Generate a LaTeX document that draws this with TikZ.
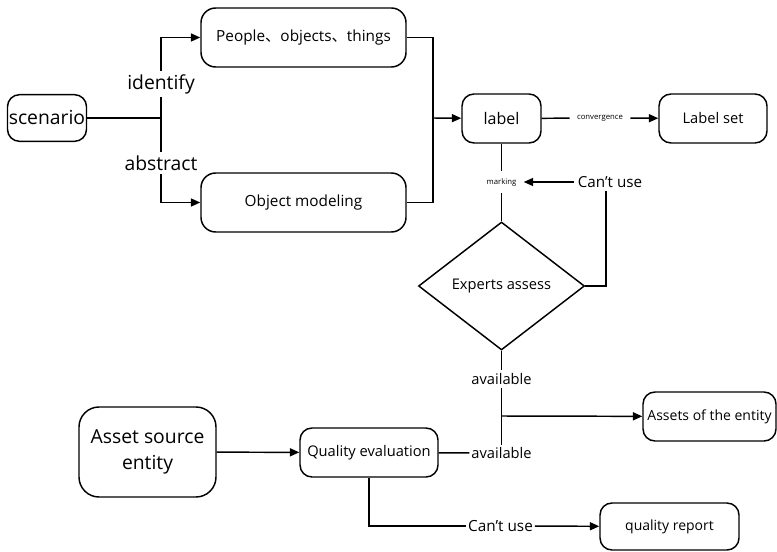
\documentclass[tikz,border=0pt]{standalone}
\usepackage{fontspec}
\setmainfont{Open Sans}
\newfontfamily\cjk{Noto Sans CJK SC}
\usetikzlibrary{arrows.meta,positioning,shapes.geometric}
\tikzset{%
	block/.style    = {draw, rectangle, rounded corners=9pt, align=center, inner sep=1pt, minimum height=36.75pt}, % Box
	decision/.style = {draw, diamond, inner sep=0pt, minimum width=124.5pt, minimum height=96pt}, % Check
	tag/.style      = {inner sep=2pt}, % Label on a line
	small/.style    = {inner sep=5pt, font=\fontsize{5.8}{7}\selectfont}, % Tiny label
	waypoint/.style = {coordinate}, % Joint
}

\begin{document}
\begin{tikzpicture}[x=0.75pt, y=-0.75pt, line width=1.1pt, >={Triangle[length=7pt,width=6pt]}, font=\fontsize{11}{13}\selectfont]
		\useasboundingbox (0,0) rectangle (777,552);
		\node[block, minimum width=59pt, minimum height=35pt, font=\fontsize{14.5}{16}\selectfont] (scen) at (47,118) {scenario};
		\node[block, minimum width=153.75pt, minimum height=44.25pt, rounded corners=11pt, font=\fontsize{11.5}{13}\selectfont] (pot) at (303.5,37.5) {People{\cjk 、}objects{\cjk 、}things};
		\node[block, minimum width=153.75pt, minimum height=44.25pt, rounded corners=11pt, font=\fontsize{11.5}{13}\selectfont] (objm) at (303.5,202.5) {Object modeling};
		\node[tag, font=\fontsize{14.5}{16}\selectfont] (iden) at (161,84) {identify};
		\node[tag, font=\fontsize{14.5}{16}\selectfont] (abst) at (161,163) {abstract};
		\node[waypoint] (jn) at (161,118) {};
		\node[waypoint] (mrg) at (433,118) {};
		\node[block, minimum width=59.25pt, font=\fontsize{12}{14}\selectfont] (lab) at (501.5,118.5) {label};
		\node[small] (conv) at (600,118) {convergence};
		\node[block, minimum width=81pt] (lset) at (713,118.5) {Label set};
		\node[small] (mark) at (501.5,182) {marking};
		\node[tag, font=\fontsize{11.4}{13}\selectfont] (cant) at (610,182) {Can't use};
		\node[decision] (expert) at (501.5,286) {Experts assess};
		\node[tag] (avl) at (501.5,379) {available};
		\node[tag, inner sep=1pt] (avl2) at (501.5,453) {available};
		\node[waypoint] (jn2) at (501.5,416) {};
		\node[block, minimum width=99.75pt, font=\fontsize{10.5}{12}\selectfont] (ent) at (709.5,416.5) {Assets of the entity};
		\node[block, minimum width=102.75pt, minimum height=67.5pt, rounded corners=15pt, font=\fontsize{14.5}{20}\selectfont] (src) at (147.5,452) {Asset source\\entity};
		\node[block, minimum width=103.5pt] (qual) at (369,452.5) {Quality evaluation};
		\node[tag, inner sep=1pt, font=\fontsize{11.5}{13}\selectfont] (cant2) at (500.5,526) {Can't use};
		\node[block, minimum width=104.25pt, minimum height=35.25pt, font=\fontsize{10.5}{12}\selectfont] (rep) at (669.5,526.5) {quality report};
		% upper part
		\draw (scen) -- (jn);
		\draw (iden) -- (abst);
		\draw[->] (iden) |- (pot);
		\draw[->] (abst) |- (objm);
		\draw (pot) -| (mrg);
		\draw (objm) -| (mrg);
		\draw[->] (mrg) -- (lab);
		\draw (lab) -- (conv);
		\draw[->] (conv) -- (lset);
		\draw (lab) -- (mark);
		\draw (mark) -- (expert);
		\draw (expert) -| ([xshift=-3pt]cant.south);
		\draw[->] (cant) -- (mark);
		% lower part
		\draw (expert) -- (avl);
		\draw (avl) -- (avl2);
		\draw[->] (jn2) -- (ent);
		\draw[->] (src) -- (qual);
		\draw (qual) -- (avl2);
		\draw (qual) |- (cant2);
		\draw[->] (cant2) -- (rep);
		\end{tikzpicture}
\end{document}
